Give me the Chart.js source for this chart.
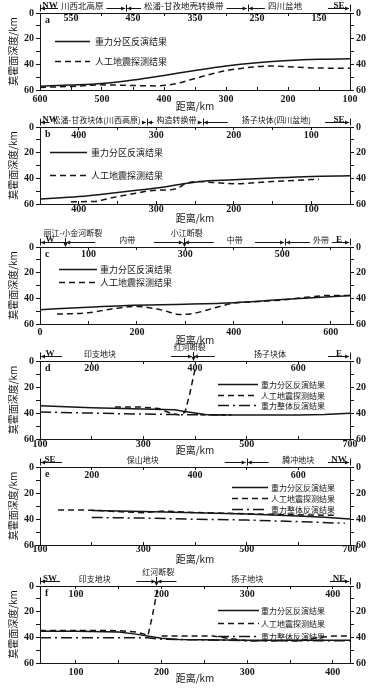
<!DOCTYPE html>
<html>
<head>
<meta charset="utf-8">
<script src="https://cdn.jsdelivr.net/npm/chart.js@4.4.0/dist/chart.umd.min.js"></script>
<style>
  html, body { margin: 0; padding: 0; background: #fff; }
  body { width: 376px; height: 690px; position: relative; overflow: hidden; }
  canvas { position: absolute; left: 0; }
</style>
</head>
<body>
<script>
// 图中文字
const X_TITLE = '距离/km';
const Y_TITLE = '莫霍面深度/km';
const NAME_GRAV = '重力分区反演结果';
const NAME_SEIS = '人工地震探测结果';
const NAME_WHOLE = '重力整体反演结果';
const DEPTH_LABELS = [0, 20, 40, 60];

// a
const aRange = [600, 100];
const aBottomTicks = [600, 500, 400, 300, 200, 100];
const aTopTicks = [550, 450, 350, 250, 150];
const aBounds = [600, 461, 265, 100];
const aZones = [['川西北高原', 532], ['松潘-甘孜地壳转换带', 368], ['四川盆地', 205]];
const aEnds = ['NW', 'SE'];
const aFaults = [];
const aGravity = [[600, 57], [550, 56.2], [500, 55], [450, 52.3], [400, 48.7], [350, 44.8], [300, 41.3], [250, 38.8], [200, 37.1], [150, 36.1], [100, 35.6]];
const aSeismic = [[600, 58], [550, 57.2], [500, 56], [450, 56.5], [410, 56.8], [380, 55], [350, 51], [300, 45], [250, 41.8], [225, 41.3], [200, 41.8], [150, 42.9], [100, 43]];

// b
const bRange = [450, 50];
const bBottomTicks = [400, 300, 200, 100];
const bTopTicks = [400, 300, 200, 100];
const bBounds = [450, 312, 240, 50];
const bZones = [['松潘-甘孜块体(川西高原)', 377], ['构造转换带', 274], ['扬子块体(四川盆地)', 145]];
const bEnds = ['NW', 'SE'];
const bFaults = [];
const bGravity = [[450, 56.1], [400, 54.2], [350, 51], [300, 47.6], [270, 44.8], [245, 42.6], [200, 41.2], [150, 39.7], [100, 38.5], [50, 38]];
const bSeismic = [[410, 58.2], [380, 58], [360, 55.5], [330, 52], [300, 49.2], [280, 48.8], [270, 47], [262, 44], [245, 42.5], [225, 43.3], [200, 44.2], [150, 42.5], [100, 41], [90, 40.8]];

// c
const cRange = [0, 640];
const cBottomTicks = [0, 200, 400, 600];
const cTopTicks = [100, 300, 500];
const cBounds = [0, 52, 297, 506, 640];
const cZones = [['', 0], ['内带', 180], ['中带', 402], ['外带', 580]];
const cEnds = ['W', 'E'];
const cFaults = [['丽江-小金河断裂', 52, 68], ['小江断裂', 297, 303]];
const cGravity = [[0, 48.8], [100, 47], [180, 45.5], [300, 44.6], [400, 43.4], [500, 41], [600, 38.7], [640, 37.8]];
const cSeismic = [[35, 52.3], [100, 51.2], [150, 48.2], [200, 46.3], [250, 49], [290, 52.6], [320, 51.5], [360, 47.5], [400, 43.8], [450, 42.5], [500, 41.3], [550, 39.2], [600, 37.7], [640, 37.8]];

// d
const dRange = [100, 700];
const dBottomTicks = [100, 300, 500, 700];
const dTopTicks = [200, 400, 600];
const dBounds = [100, 396, 700];
const dZones = [['印支地块', 216], ['扬子块体', 545]];
const dEnds = ['W', 'E'];
const dFaults = [['红河断裂', 396, 390]];
const dGravity = [[100, 34.5], [200, 36], [300, 37], [360, 37.5], [380, 38.8], [400, 40], [420, 41.2], [450, 41.5], [500, 41.5], [600, 41.5], [650, 41.2], [700, 40.2]];
const dSeismic = [[245, 35.3], [290, 35.3], [330, 36.5], [355, 40.5], [372, 41.7], [381, 39], [390, 25], [398, 10], [403, 3], [406, null], [410, 41.3], [470, 41.3]];
const dWhole = [[100, 39.2], [250, 40.5], [380, 41.3], [470, 41.5]];

// e
const eRange = [100, 700];
const eBottomTicks = [100, 300, 500, 700];
const eTopTicks = [200, 400, 600];
const eBounds = [100, 500, 700];
const eZones = [['保山地块', 299], ['腾冲地块', 600]];
const eEnds = ['SE', 'NW'];
const eFaults = [];
const eGravity = [[200, 33.5], [300, 34.3], [400, 35.2], [500, 36.2], [600, 37.6], [650, 38.6], [700, 40]];
const eSeismic = [[135, 33], [200, 33.2], [250, 34.3], [300, 35.2], [340, 33.8], [400, 35], [500, 36], [600, 36.8], [670, 37.2]];
const eWhole = [[200, 38.8], [300, 39.3], [400, 40.2], [500, 40.8], [600, 42], [690, 43.3]];

// f
const fRange = [58, 420];
const fBottomTicks = [100, 200, 300, 400];
const fTopTicks = [100, 200, 300, 400];
const fBounds = [58, 194, 420];
const fZones = [['印支地块', 122], ['扬子地块', 300]];
const fEnds = ['SW', 'NE'];
const fFaults = [['红河断裂', 194, 196]];
const fGravity = [[58, 35.2], [100, 35.2], [150, 35.8], [170, 37.5], [185, 39.2], [200, 40.8], [220, 41.7], [300, 42.3], [400, 42.3], [420, 42.3]];
const fSeismic = [[58, 34.6], [100, 34.6], [150, 34.8], [170, 35.8], [180, 37.5], [184, 38.8], [189, 24], [195, 3], [197, null], [200, 39], [260, 39], [280, 41], [300, 42.7], [360, 42.7], [380, 40.5], [400, 38.9], [420, 38.9]];
const fWhole = [[58, 40.3], [183, 40.3], [200, 41.5], [300, 42.6], [420, 42.6]];

const INK = '#161616';
const NUM_FONT = { family: '"Liberation Serif", serif', size: 10, weight: 'bold' };
const CJK = '"Noto Sans CJK SC", sans-serif';

const STYLE = {};
STYLE[NAME_GRAV] = { borderDash: [], borderWidth: 1.5 };
STYLE[NAME_SEIS] = { borderDash: [6, 4], borderWidth: 1.5 };
STYLE[NAME_WHOLE] = { borderDash: [11, 4, 2, 4], borderWidth: 1.5 };

const panels = [
  { id: 'a', range: aRange, bottomTicks: aBottomTicks, topTicks: aTopTicks, bounds: aBounds, zones: aZones, ends: aEnds, faults: aFaults,
    series: [[NAME_GRAV, aGravity], [NAME_SEIS, aSeismic]], smooth: true,
    t: 0, h: 112, top: 13, bottom: 90, bPad: 6, topLabelY: 5.5, minor: 50, topMinor: 50, arrow: 22, band: 8.5,
    legend: { x0: 55, x1: 90, tx: 95, ys: [41, 61], size: 9 } },
  { id: 'b', range: bRange, bottomTicks: bBottomTicks, topTicks: bTopTicks, bounds: bBounds, zones: bZones, ends: bEnds, faults: bFaults,
    series: [[NAME_GRAV, bGravity], [NAME_SEIS, bSeismic]], smooth: true,
    t: 112, h: 112, top: 127, bottom: 204, bPad: 2, topLabelY: 8, minor: 50, topMinor: 50, arrow: 25, band: 8,
    legend: { x0: 50, x1: 87, tx: 91, ys: [152, 175], size: 9 } },
  { id: 'c', range: cRange, bottomTicks: cBottomTicks, topTicks: cTopTicks, bounds: cBounds, zones: cZones, ends: cEnds, faults: cFaults,
    series: [[NAME_GRAV, cGravity], [NAME_SEIS, cSeismic]], smooth: true,
    t: 224, h: 122, top: 247, bottom: 324, bPad: 5, topLabelY: 7, minor: 100, topMinor: 100, arrow: 30, band: 8,
    legend: { x0: 59, x1: 97, tx: 100, ys: [269, 282], size: 9 } },
  { id: 'd', range: dRange, bottomTicks: dBottomTicks, topTicks: dTopTicks, bounds: dBounds, zones: dZones, ends: dEnds, faults: dFaults,
    series: [[NAME_GRAV, dGravity], [NAME_SEIS, dSeismic], [NAME_WHOLE, dWhole]], smooth: false,
    t: 342, h: 114, top: 361, bottom: 439, bPad: 2, topLabelY: 7, minor: 100, topMinor: 100, arrow: 22, band: 8,
    legend: { x0: 218, x1: 258, tx: 261, ys: [384, 394.5, 405], size: 8 } },
  { id: 'e', range: eRange, bottomTicks: eBottomTicks, topTicks: eTopTicks, bounds: eBounds, zones: eZones, ends: eEnds, faults: eFaults,
    series: [[NAME_GRAV, eGravity], [NAME_SEIS, eSeismic], [NAME_WHOLE, eWhole]], smooth: false,
    t: 455, h: 110, top: 467, bottom: 545, bPad: 1.5, topLabelY: 8, minor: 100, topMinor: 100, arrow: 22, band: 8,
    legend: { x0: 232, x1: 268, tx: 271, ys: [487, 498, 509], size: 8 } },
  { id: 'f', range: fRange, bottomTicks: fBottomTicks, topTicks: fTopTicks, bounds: fBounds, zones: fZones, ends: fEnds, faults: fFaults,
    series: [[NAME_GRAV, fGravity], [NAME_SEIS, fSeismic], [NAME_WHOLE, fWhole]], smooth: false,
    t: 562, h: 122, top: 586, bottom: 663, bPad: 6, topLabelY: 8, minor: 50, topMinor: 50, arrow: 20, band: 8,
    legend: { x0: 218, x1: 259, tx: 261, ys: [610, 623, 636], size: 8 } }
];

// 某个步长在范围内的全部刻度
function stepTicks(min, max, step) {
  const out = [];
  for (let v = Math.ceil(min / step) * step; v <= max + 1e-9; v += step) out.push(v);
  return out;
}

function arrowH(ctx, from, to, y) {
  ctx.beginPath(); ctx.moveTo(from, y); ctx.lineTo(to, y); ctx.stroke();
  const d = to > from ? 1 : -1;
  ctx.beginPath(); ctx.moveTo(to, y); ctx.lineTo(to - d * 4, y - 2); ctx.lineTo(to - d * 4, y + 2); ctx.closePath(); ctx.fill();
}

function decor(p) {
  return {
    id: 'decor_' + p.id,
    afterDraw(chart) {
      const ctx = chart.ctx, xs = chart.scales.x, xt = chart.scales.xTop, area = chart.chartArea;
      const px = v => xs.getPixelForValue(v);
      ctx.save();
      ctx.fillStyle = INK; ctx.strokeStyle = INK; ctx.lineWidth = 1;

      // 分图编号
      ctx.font = 'bold 10px "Liberation Serif"';
      ctx.textAlign = 'left'; ctx.textBaseline = 'middle';
      ctx.fillText(p.id, area.left + 5, area.top + 7);

      // 上轴刻度值（画在图框内）
      ctx.textAlign = 'center';
      p.topTicks.forEach(v => ctx.fillText(String(v), xt.getPixelForValue(v), area.top + p.topLabelY));

      // 顶部构造分区
      const arrowY = area.top - 4.5, textY = area.top - 7.5;
      const faultXs = p.faults.map(f => Math.round(px(f[1])));
      const bx = p.bounds.map(px);
      bx.forEach(x => {
        if (faultXs.includes(Math.round(x))) return;
        ctx.beginPath(); ctx.moveTo(Math.round(x) + 0.5, arrowY - 4); ctx.lineTo(Math.round(x) + 0.5, arrowY + 3); ctx.stroke();
      });
      const last = p.zones.length - 1;
      ctx.font = p.band + 'px ' + CJK;
      p.zones.forEach(([text, at], i) => {
        const l = Math.min(bx[i], bx[i + 1]), r = Math.max(bx[i], bx[i + 1]);
        let labL = r, labR = l;
        if (text) {
          const cx = px(at), w = ctx.measureText(text).width;
          ctx.textAlign = 'center'; ctx.textBaseline = 'middle';
          ctx.fillText(text, cx, textY);
          labL = cx - w / 2 - 3; labR = cx + w / 2 + 3;
        }
        if (text || i === 0) {
          const e = Math.min(l + p.arrow, labL);
          if (e - l > 3) arrowH(ctx, e, l + 1, arrowY);
        }
        if (text || i === last) {
          const s = Math.max(r - p.arrow, labR);
          if (r - s > 3) arrowH(ctx, s, r - 1, arrowY);
        }
      });
      // 两端方位
      ctx.font = 'bold 9px "Liberation Serif"';
      ctx.textBaseline = 'alphabetic'; ctx.textAlign = 'center';
      ctx.fillText(p.ends[0], area.left + 10, arrowY - 1);
      ctx.fillText(p.ends[1], area.right - 11, arrowY - 1);

      // 断裂
      p.faults.forEach(([name, at, labelAt]) => {
        const fx = Math.round(px(at)) + 0.5, y0 = area.top - 14;
        ctx.font = p.band + 'px ' + CJK;
        ctx.textAlign = 'center'; ctx.textBaseline = 'middle';
        ctx.fillText(name, px(labelAt), y0);
        ctx.beginPath(); ctx.moveTo(fx, y0 + 5); ctx.lineTo(fx, area.top - 1); ctx.stroke();
        ctx.beginPath(); ctx.moveTo(fx, area.top); ctx.lineTo(fx - 2, area.top - 4); ctx.lineTo(fx + 2, area.top - 4); ctx.closePath(); ctx.fill();
      });

      // 图例
      const lg = p.legend;
      ctx.font = lg.size + 'px ' + CJK;
      ctx.textAlign = 'left'; ctx.textBaseline = 'middle';
      chart.data.datasets.forEach((ds, i) => {
        const y = Math.round(lg.ys[i] - p.t) + 0.5;
        ctx.lineWidth = ds.borderWidth;
        ctx.setLineDash(ds.borderDash);
        ctx.beginPath(); ctx.moveTo(lg.x0, y); ctx.lineTo(lg.x1, y); ctx.stroke();
        ctx.setLineDash([]);
        ctx.fillText(ds.label, lg.tx, y);
      });
      ctx.restore();
    }
  };
}

function build(p) {
  const canvas = document.createElement('canvas');
  canvas.width = 376; canvas.height = p.h;
  canvas.style.top = p.t + 'px';
  canvas.style.width = '376px'; canvas.style.height = p.h + 'px';
  document.body.appendChild(canvas);

  const min = Math.min(p.range[0], p.range[1]), max = Math.max(p.range[0], p.range[1]);
  const reverse = p.range[0] > p.range[1];
  const topH = p.top - p.t, botH = p.h - (p.bottom - p.t);

  const datasets = p.series.map(([name, pts]) => ({
    label: name,
    data: pts.map(([x, y]) => ({ x, y })),
    borderColor: INK,
    borderWidth: STYLE[name].borderWidth,
    borderDash: STYLE[name].borderDash,
    pointRadius: 0,
    fill: false,
    cubicInterpolationMode: p.smooth ? 'monotone' : 'default',
    tension: 0
  }));

  const xCommon = {
    type: 'linear', min, max, reverse,
    border: { color: INK, width: 1 },
    grid: { drawOnChartArea: false, tickLength: -3, color: INK, tickColor: INK }
  };
  const yCommon = {
    type: 'linear', min: 0, max: 60, reverse: true,
    afterBuildTicks: s => { s.ticks = stepTicks(0, 60, 10).map(v => ({ value: v })); },
    border: { color: INK, width: 1 },
    grid: { drawOnChartArea: false, tickLength: 4, color: INK, tickColor: INK },
    ticks: { autoSkip: false, padding: 2, color: INK, font: NUM_FONT, callback: v => DEPTH_LABELS.includes(v) ? String(v) : '' }
  };

  new Chart(canvas, {
    type: 'line',
    data: { datasets },
    options: {
      responsive: false,
      animation: false,
      layout: { padding: 0 },
      plugins: { legend: { display: false }, tooltip: { enabled: false } },
      scales: {
        x: Object.assign({}, xCommon, {
          position: 'bottom',
          afterBuildTicks: s => { s.ticks = stepTicks(min, max, p.minor).map(v => ({ value: v })); },
          afterFit: s => { s.height = botH; },
          ticks: { autoSkip: false, maxRotation: 0, minRotation: 0, padding: p.bPad, color: INK, font: NUM_FONT,
                   callback: v => p.bottomTicks.includes(v) ? String(v) : '' },
          title: { display: true, text: X_TITLE, color: INK, font: { family: CJK, size: 10 }, padding: 0 }
        }),
        xTop: Object.assign({}, xCommon, {
          position: 'top',
          afterBuildTicks: s => { s.ticks = stepTicks(min, max, p.topMinor).map(v => ({ value: v })); },
          afterFit: s => { s.height = topH; },
          ticks: { display: false }
        }),
        y: Object.assign({}, yCommon, {
          position: 'left',
          afterFit: s => { s.width = 40; },
          title: { display: true, text: Y_TITLE, color: INK, font: { family: CJK, size: 10 }, padding: { top: 7, bottom: 0 } }
        }),
        y2: Object.assign({}, yCommon, {
          position: 'right',
          afterFit: s => { s.width = 26; }
        })
      }
    },
    plugins: [decor(p)]
  });
}

panels.forEach(build);
</script>
</body>
</html>
